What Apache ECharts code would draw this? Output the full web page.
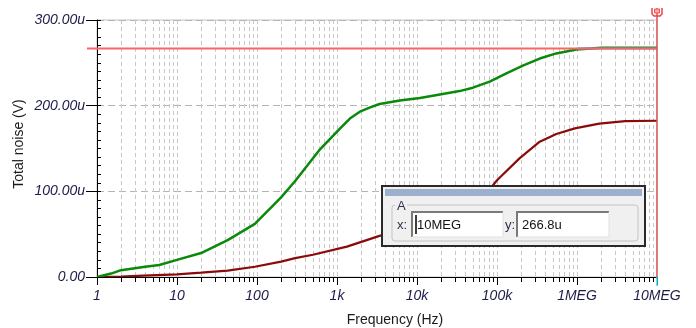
<!DOCTYPE html>
<html><head><meta charset="utf-8">
<script src="https://cdn.jsdelivr.net/npm/echarts@6/dist/echarts.min.js"></script>
<style>html,body{margin:0;padding:0;background:#fff}#c{width:696px;height:328px}</style>
</head><body><div id="c"></div>
<script>
// ---- data (values in micro-volts) ----
const greenFreq = [1, 1.5, 2, 4, 6, 10, 20, 43, 94, 200, 300, 600, 1080, 1450, 1930, 2600, 3400, 6100, 10900, 19300, 34000, 50000, 81000, 133000, 214000, 342000, 551000, 980000, 1500000, 2000000, 5000000, 10000000];
const greenVals = [0, 4, 8, 12, 14, 20, 28, 43, 62, 93, 112, 148, 173, 185, 193, 198, 202, 206, 209, 213, 217, 221, 228, 238, 247, 255, 261, 265.5, 266.6, 267.6, 267.7, 267.7];
const redFreq = [1, 2, 3.8, 10, 20, 43, 94, 200, 300, 500, 1330, 3400, 10000, 30000, 87000, 100000, 191000, 342000, 551000, 940000, 1900000, 4000000, 10000000];
const redVals = [0, 0.5, 1.5, 3, 5, 7.5, 12, 18, 22, 26, 35.5, 48, 60, 78, 106, 113, 138.5, 158, 167, 173.5, 179, 182, 182.4];
const blueFreq = [1000000, 10000000];
const blueVals = [266.8, 266.8];
const cursorX = 10000000;
const cursorY = 266.8;
const cursorXText = '10MEG';
const cursorYText = '266.8u';
const xTickValues = [1, 10, 100, 1000, 10000, 100000, 1000000, 10000000];
const xTickLabels = ['1', '10', '100', '1k', '10k', '100k', '1MEG', '10MEG'];
const xGridMantissas = [2, 3, 4, 5, 6, 7, 8, 9, 10];
const xGridDecades = [1, 10, 100, 1000, 10000, 100000, 1000000];
const yTickValues = [0, 100, 200, 300];
const yTickLabels = ['0.00', '100.00u', '200.00u', '300.00u'];
const xName = 'Frequency (Hz)';
const yName = 'Total noise (V)';

const xGridValues = [];
xGridDecades.forEach(d => xGridMantissas.forEach(m => { if (d * m < 10000000) xGridValues.push(d * m); }));

const zip = (a, b) => a.map((f, i) => [f, b[i]]);
const FONT = 'Liberation Sans, Arial, sans-serif';
const labelFont = { fontFamily: FONT, fontSize: 14, fontStyle: 'italic', color: '#1c1c48' };

const chart = echarts.init(document.getElementById('c'), null, { renderer: 'canvas' });
chart.setOption({
  animation: false,
  grid: { left: 97, right: 39, top: 20, bottom: 51, show: true, borderColor: '#c4c4c4', borderWidth: 1, outerBoundsMode: 'none', containLabel: false },
  xAxis: [
    { type: 'log', logBase: 10, min: 1, max: 10000000, position: 'bottom', z: 5,
      axisLine: { show: true, onZero: false, lineStyle: { color: '#000', width: 1 } },
      axisTick: { show: true, customValues: xTickValues, length: 8, lineStyle: { color: '#000' } },
      axisLabel: { show: true, customValues: xTickValues, margin: 12, hideOverlap: false,
        formatter: v => xTickLabels[Math.round(Math.log10(v))], ...labelFont },
      splitLine: { show: false }, minorTick: { show: false } },
    { type: 'log', logBase: 10, min: 1, max: 10000000, position: 'bottom', z: 1,
      axisLine: { show: false, onZero: false },
      axisTick: { show: true, customValues: xGridValues, length: 5, lineStyle: { color: '#000' } },
      axisLabel: { show: false },
      splitLine: { show: true, lineStyle: { color: '#c8c8c8', type: [4, 3], width: 1 } } }
  ],
  yAxis: [
    { type: 'value', min: 0, max: 300, interval: 100, position: 'left',
      axisLine: { show: true, lineStyle: { color: '#000' } },
      axisTick: { show: true, length: 11, lineStyle: { color: '#000' } },
      axisLabel: { margin: 12, formatter: v => yTickLabels[yTickValues.indexOf(v)], ...labelFont },
      splitLine: { show: true, lineStyle: { color: '#b4b4b4', type: [7, 4], width: 1 } } },
    { type: 'value', min: 0, max: 300, interval: 10, position: 'left',
      axisLine: { show: false }, axisTick: { show: true, inside: true, length: 4, lineStyle: { color: '#000' } },
      axisLabel: { show: false }, splitLine: { show: false } }
  ],
  series: [
    { type: 'line', name: 'v2', data: zip(redFreq, redVals), showSymbol: false, symbol: 'none',
      lineStyle: { color: '#8b0a0a', width: 2.2 }, z: 3 },
    { type: 'line', name: 'v1', data: zip(greenFreq, greenVals), showSymbol: false, symbol: 'none',
      lineStyle: { color: '#0a8a0a', width: 2.5 }, z: 4 },
    { type: 'line', name: 'v3', data: zip(blueFreq, blueVals), showSymbol: false, symbol: 'none',
      lineStyle: { color: '#3a9ad8', width: 2 }, z: 5 }
  ]
});

const p = chart.convertToPixel({ xAxisIndex: 0, yAxisIndex: 0 }, [cursorX, cursorY]);
const p0 = chart.convertToPixel({ xAxisIndex: 0, yAxisIndex: 0 }, [1, 0]);
const cx = p[0], cy = p[1], bx = p0[0], by = p0[1];

const Z = 100;
const field = (x, y, w, h, text, caret) => {
  const els = [
    { type: 'rect', z: Z + 1, shape: { x: x, y: y, width: w, height: h }, style: { fill: '#fff', stroke: null } },
    { type: 'polyline', z: Z + 2, shape: { points: [[x, y + h], [x, y], [x + w, y]] }, style: { stroke: '#7a7a7a', lineWidth: 2, fill: null } },
    { type: 'polyline', z: Z + 2, shape: { points: [[x, y + h], [x + w, y + h], [x + w, y]] }, style: { stroke: '#e0e0e0', lineWidth: 1, fill: null } },
    { type: 'text', z: Z + 3, x: x + 5, y: y + h / 2 + 1, style: { text: text, font: '13px ' + FONT, fill: '#111', textVerticalAlign: 'middle', verticalAlign: 'middle' } }
  ];
  if (caret) els.push({ type: 'line', z: Z + 3, shape: { x1: x + 4, y1: y + 3, x2: x + 4, y2: y + h - 3 }, style: { stroke: '#000', lineWidth: 1.5 } });
  return els;
};

chart.setOption({
  graphic: [
    // cursor lines
    { type: 'line', z: 50, shape: { x1: bx - 10, y1: cy, x2: cx, y2: cy }, style: { stroke: '#ff6464', lineWidth: 2 } },
    { type: 'line', z: 50, shape: { x1: cx, y1: 8, x2: cx, y2: by }, style: { stroke: '#d85858', lineWidth: 1.5 } },
    { type: 'line', z: 50, shape: { x1: cx, y1: by, x2: cx, y2: by + 9 }, style: { stroke: '#30d8e8', lineWidth: 1.5 } },
    { type: 'polyline', z: 51, shape: { points: [[cx - 5, 8], [cx - 5, 14], [cx - 3, 16], [cx + 3, 16], [cx + 5, 14], [cx + 5, 8]] }, style: { stroke: '#ee4444', lineWidth: 1.5, fill: null } },
    { type: 'rect', z: 51, shape: { x: cx - 2.5, y: 9, width: 5, height: 4 }, style: { fill: '#ffaaaa', stroke: '#ee5555', lineWidth: 1 } },
    // axis names
    { type: 'text', z: 50, x: 395, y: 320, style: { text: xName, font: '14px ' + FONT, fill: '#1a1a1a', textAlign: 'center', textVerticalAlign: 'middle', align: 'center', verticalAlign: 'middle' } },
    { type: 'text', z: 50, x: 19, y: 144, rotation: Math.PI / 2, style: { text: yName, font: '14px ' + FONT, fill: '#1a1a1a', textAlign: 'center', textVerticalAlign: 'middle', align: 'center', verticalAlign: 'middle' } },
    // cursor readout box
    { type: 'rect', z: Z, shape: { x: 382, y: 186, width: 263, height: 60 }, style: { fill: '#f0f0f0', stroke: '#2a2a2a', lineWidth: 2 } },
    { type: 'rect', z: Z + 1, shape: { x: 385, y: 189, width: 257, height: 7 }, style: { fill: '#9ab0cc', stroke: null } },
    { type: 'rect', z: Z + 1, shape: { x: 392, y: 205, width: 246, height: 36, r: 3 }, style: { fill: null, stroke: '#c4c4c4', lineWidth: 1 } },
    { type: 'rect', z: Z + 2, shape: { x: 395, y: 200, width: 12, height: 10 }, style: { fill: '#f0f0f0', stroke: null } },
    { type: 'text', z: Z + 3, x: 397, y: 206, style: { text: 'A', font: '13px ' + FONT, fill: '#303050', textVerticalAlign: 'middle', verticalAlign: 'middle' } },
    { type: 'text', z: Z + 3, x: 397, y: 225, style: { text: 'x:', font: '13px ' + FONT, fill: '#303050', textVerticalAlign: 'middle', verticalAlign: 'middle' } },
    { type: 'text', z: Z + 3, x: 505, y: 225, style: { text: 'y:', font: '13px ' + FONT, fill: '#303050', textVerticalAlign: 'middle', verticalAlign: 'middle' } }
  ].concat(field(412, 212, 91, 25, cursorXText, true)).concat(field(517, 212, 92, 25, cursorYText, false))
});
</script>
</body></html>
